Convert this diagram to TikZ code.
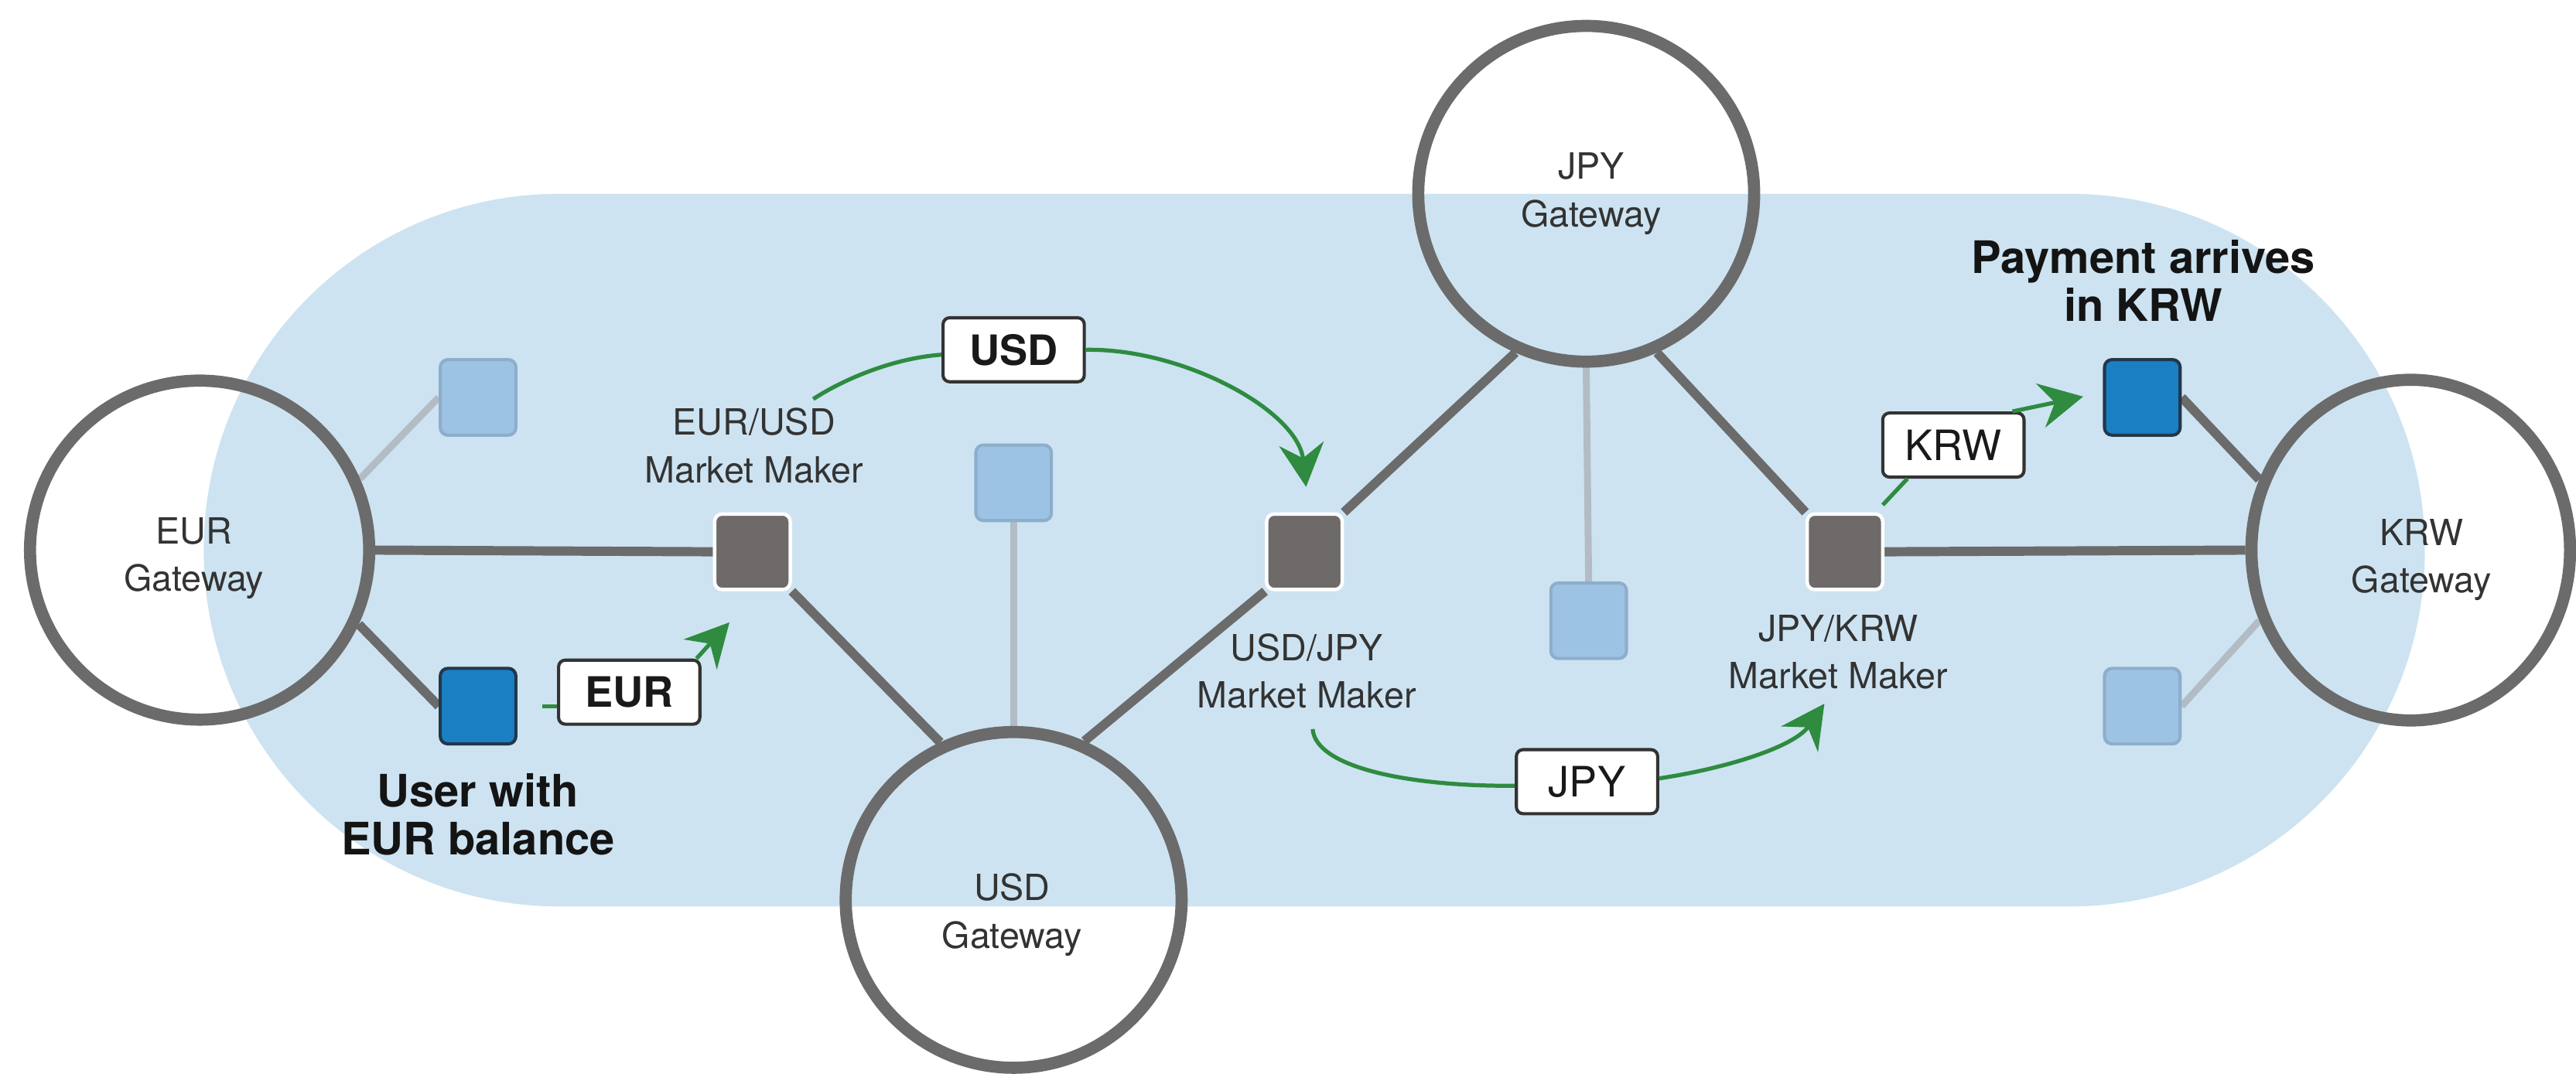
\documentclass[tikz,border=0pt]{standalone}
\usepackage{fontspec}
\setmainfont{TeX Gyre Heros}
\usetikzlibrary{shapes.geometric,arrows.meta,calc}

\definecolor{zone}{HTML}{CDE3F1}
\definecolor{wire}{HTML}{6B6B6B}
\definecolor{wirelight}{HTML}{B3BCC4}
\definecolor{makerfill}{HTML}{6E6A69}
\definecolor{userfill}{HTML}{1B7FC4}
\definecolor{useredge}{HTML}{21384C}
\definecolor{idlefill}{HTML}{9DC3E4}
\definecolor{idleedge}{HTML}{8DAECB}
\definecolor{flowgreen}{HTML}{2E8B3F}
\definecolor{ink}{HTML}{333333}

\pgfdeclarelayer{back}
\pgfsetlayers{back,main}

\begin{document}
\begin{tikzpicture}[x=0.02cm,y=-0.02cm,
  gateway/.style={ellipse, draw=wire, line width=4.2pt, inner sep=0pt},
  box/.style={rectangle, rounded corners=2.6pt, minimum size=0.92cm, inner sep=0pt},
  maker/.style={box, fill=makerfill, draw=white, line width=1.2pt},
  holder/.style={box, fill=userfill, draw=useredge, line width=1.1pt},
  idle/.style={box, fill=idlefill, draw=idleedge, line width=1.1pt},
  caption/.style={align=center, text=ink, inner sep=0pt,
    font=\fontsize{12.5}{16.5}\selectfont},
  callout/.style={align=center, text=black!92, inner sep=0pt,
    font=\fontsize{15.5}{16.5}\selectfont\bfseries},
  tag/.style={draw=ink, fill=white, line width=1.1pt, rounded corners=2.3pt,
    minimum width=1.72cm, minimum height=0.78cm, inner sep=0pt, text=black!90},
  tagbold/.style={tag, font=\fontsize{14.5}{14.5}\selectfont\bfseries},
  tagplain/.style={tag, font=\fontsize{14.5}{14.5}\selectfont},
  link/.style={draw=wire, line width=3.2pt},
  spur/.style={draw=wirelight, line width=2.4pt},
  flow/.style={draw=flowgreen, line width=1.4pt},
  tip/.style={-{Stealth[length=15pt,width=15.5pt,inset=5pt]}}
]
\useasboundingbox (0,0) rectangle (1568,654);

% network zone
\begin{pgfonlayer}{back}
  \fill[zone, rounded corners=4.33cm] (124,118) rectangle (1476,552);
\end{pgfonlayer}

% gateways
\node[gateway, minimum width=4.13cm, minimum height=4.13cm] (eur) at (121.5,335) {};
\node[gateway, minimum width=4.09cm, minimum height=4.09cm] (jpy) at (965.5,118) {};
\node[gateway, minimum width=4.09cm, minimum height=4.09cm] (usd) at (617,548) {};
\node[gateway, minimum width=3.88cm, minimum height=4.15cm] (krw) at (1467.4,335) {};

\node[caption] (eurtxt) at (118,340) {EUR\\Gateway};
\node[caption] (jpytxt) at (968.5,118) {JPY\\Gateway};
\node[caption] (usdtxt) at (616,557) {USD\\Gateway};
\node[caption] (krwtxt) at (1474,341) {KRW\\Gateway};

% market makers
\node[maker] (mm1) at (458,336) {};
\node[maker] (mm2) at (794,336) {};
\node[maker] (mm3) at (1123,336) {};

\node[caption] (mm1txt) at (459,271.5) {EUR/USD\\Market Maker};
\node[caption] (mm2txt) at (795.4,408.6) {USD/JPY\\Market Maker};
\node[caption] (mm3txt) at (1119,397) {JPY/KRW\\Market Maker};

% accounts
\node[holder] (usrE) at (291,430) {};
\node[holder] (usrK) at (1304,242) {};
\node[idle] (idle1) at (291,242) {};
\node[idle] (idle2) at (617,294) {};
\node[idle] (idle3) at (967,378) {};
\node[idle] (idle4) at (1304,430) {};

\node[callout] (fromtxt) at (291,496) {User with\\EUR balance};
\node[callout] (totxt) at (1304.5,171) {Payment arrives\\in KRW};

% trust lines
\begin{pgfonlayer}{back}
  \draw[link] (eur.east) -- (mm1.west);
  \draw[link] (eur.-25) -- (usrE.west);
  \draw[spur] (eur.24) -- (idle1.west);
  \draw[link] (mm1.south east) -- (usd.115);
  \draw[spur] (idle2.south) -- (usd.north);
  \draw[link] (usd.66) -- (mm2.south west);
  \draw[link] (mm2.north east) -- (jpy.246);
  \draw[spur] (jpy.south) -- (idle3.north);
  \draw[link] (jpy.294) -- (mm3.north west);
  \draw[link] (mm3.east) -- (krw.west);
  \draw[link] (krw.155) -- (usrK.east);
  \draw[spur] (krw.205) -- (idle4.east);
\end{pgfonlayer}

% currency tags
\node[tagbold] (eurtag) at (383,421.5) {EUR};
\node[tagbold] (usdtag) at (617,213) {USD};
\node[tagplain] (jpytag) at (966,476) {JPY};
\node[tagplain] (krwtag) at (1189,271) {KRW};

% payment path
\coordinate (e0) at (330,430);
\coordinate (e1) at (444,379);
\coordinate (u0) at (495,243);
\coordinate (u1) at (795,296.5);
\coordinate (j0) at (799,444);
\coordinate (j1) at (1110.5,428.5);
\coordinate (k0) at (1146,307.5);
\coordinate (k1) at (1268,241.5);

\draw[flow] (e0) -- (e0 -| eurtag.west);
\draw[flow, tip] ($(eurtag.north east)+(-3,0)$) -- (e1);

\draw[flow] (u0) .. controls (515,230) and (545,218) .. ($(usdtag.west)+(0,3)$);
\draw[flow, tip] (usdtag.east) .. controls (720,212) and (790,250) .. (u1);

\draw[flow] (j0) .. controls (801,468) and (860,479) .. ($(jpytag.west)+(0,2.5)$);
\draw[flow, tip] ($(jpytag.east)+(0,-2)$) .. controls (1050,468) and (1092,455) .. (j1);

\draw[flow] (k0) -- ($(krwtag.south west)+(16,0)$);
\draw[flow, tip] ($(krwtag.north east)+(-8,0)$) -- (k1);
\end{tikzpicture}
\end{document}
